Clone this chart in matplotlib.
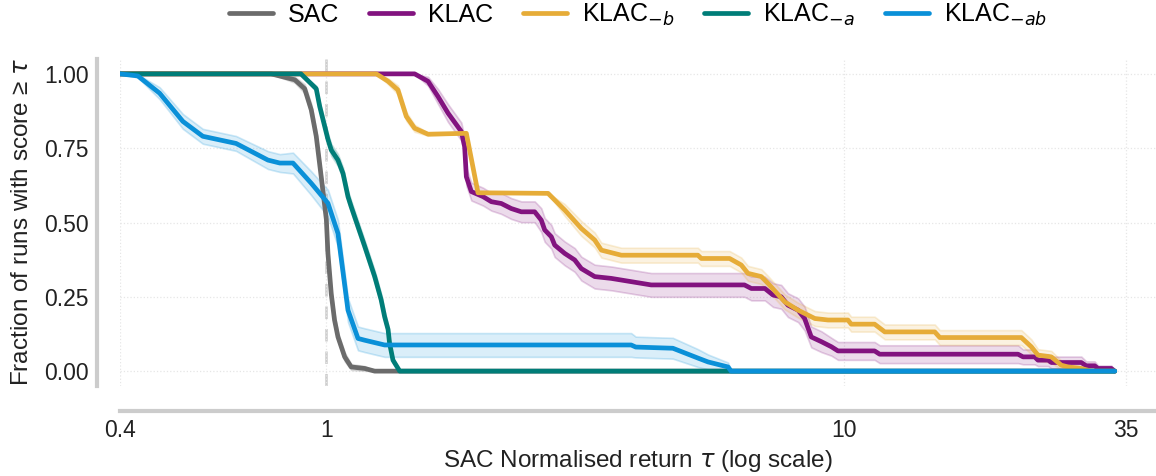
"""
Performance profile: SAC vs KLAC variants
"""
import matplotlib
matplotlib.use('Agg')
import matplotlib.pyplot as plt
from matplotlib.colors import to_rgba
import numpy as np

plt.rcParams['font.family'] = ['Liberation Sans', 'DejaVu Sans']
plt.rcParams['mathtext.fontset'] = 'dejavusans'

# ---- data (tau, fraction, CI half-width) ----
sac_tau = [0.4, 0.783, 0.870, 0.909, 0.936, 0.957, 0.979, 1.001, 1.008, 1.023,
           1.038, 1.054, 1.086, 1.118, 1.187, 1.241, 33.3]
sac_frac = [1.0, 1.0, 0.98, 0.95, 0.879, 0.79, 0.65, 0.51, 0.396, 0.26,
            0.172, 0.115, 0.048, 0.014, 0.009, 0.0, 0.0]
sac_ci = [0.0, 0.0, 0.01, 0.015, 0.02, 0.02, 0.02, 0.02, 0.02, 0.02,
          0.02, 0.015, 0.015, 0.01, 0.008, 0.0, 0.0]

klac_tau = [0.4, 1.482, 1.573, 1.644, 1.719, 1.824, 1.851, 1.865, 1.907, 2.009,
            2.084, 2.178, 2.277, 2.381, 2.527, 2.602, 2.642, 2.721, 2.762, 2.888,
            3.019, 3.109, 3.300, 3.551, 3.881, 4.241, 6.42, 6.62, 7.03, 7.29,
            7.56, 7.79, 8.15, 8.39, 8.64, 9.04, 9.45, 9.73, 11.45, 11.71,
            21.66, 22.15, 23.32, 23.67, 24.76, 25.12, 28.70, 29.33, 30.45, 30.91,
            32.79, 33.3]
klac_frac = [1.0, 1.0, 0.975, 0.924, 0.868, 0.806, 0.755, 0.654, 0.604, 0.587,
             0.57, 0.564, 0.547, 0.536, 0.536, 0.508, 0.475, 0.452, 0.424, 0.396,
             0.374, 0.345, 0.318, 0.312, 0.301, 0.29, 0.29, 0.278, 0.278, 0.256,
             0.25, 0.222, 0.205, 0.177, 0.115, 0.099, 0.082, 0.068, 0.068, 0.057,
             0.057, 0.048, 0.048, 0.037, 0.037, 0.029, 0.029, 0.018, 0.018, 0.009,
             0.009, 0.0]
klac_ci = [0.0, 0.0, 0.015, 0.025, 0.03, 0.03, 0.03, 0.03, 0.03, 0.03,
           0.03, 0.035, 0.035, 0.035, 0.035, 0.04, 0.04, 0.04, 0.04, 0.04,
           0.04, 0.04, 0.04, 0.04, 0.04, 0.04, 0.04, 0.04, 0.04, 0.04,
           0.04, 0.04, 0.04, 0.04, 0.035, 0.035, 0.03, 0.03, 0.03, 0.03,
           0.03, 0.025, 0.025, 0.02, 0.02, 0.02, 0.02, 0.015, 0.015, 0.01,
           0.01, 0.0]

klacb_tau = [0.4, 1.250, 1.317, 1.376, 1.428, 1.482, 1.573, 1.865, 1.964, 2.682,
             2.888, 3.109, 3.300, 3.399, 3.715, 5.22, 5.30, 6.01, 6.33, 6.52,
             6.92, 7.13, 7.68, 8.15, 8.78, 9.31, 10.17, 10.32, 11.45, 11.98,
             14.96, 15.30, 21.98, 22.98, 23.67, 25.12, 26.26, 27.06, 28.70, 30.01,
             33.3]
klacb_frac = [1.0, 1.0, 0.975, 0.946, 0.857, 0.817, 0.797, 0.80, 0.60, 0.598,
              0.542, 0.48, 0.441, 0.407, 0.39, 0.39, 0.379, 0.379, 0.357, 0.329,
              0.318, 0.295, 0.233, 0.205, 0.177, 0.172, 0.172, 0.158, 0.158, 0.132,
              0.132, 0.113, 0.113, 0.082, 0.054, 0.048, 0.02, 0.014, 0.009, 0.0,
              0.0]
klacb_ci = [0.0, 0.0, 0.01, 0.015, 0.015, 0.012, 0.005, 0.0, 0.0, 0.0,
            0.02, 0.025, 0.025, 0.025, 0.025, 0.025, 0.025, 0.025, 0.025, 0.025,
            0.025, 0.025, 0.025, 0.025, 0.025, 0.025, 0.025, 0.025, 0.025, 0.025,
            0.025, 0.025, 0.025, 0.025, 0.02, 0.02, 0.015, 0.01, 0.008, 0.0,
            0.0]

klaca_tau = [0.4, 0.894, 0.957, 0.972, 1.008, 1.023, 1.054, 1.078, 1.102, 1.118,
             1.187, 1.241, 1.277, 1.297, 1.317, 1.326, 1.346, 1.387, 33.3]
klaca_frac = [1.0, 1.0, 0.95, 0.89, 0.78, 0.744, 0.71, 0.665, 0.587, 0.553,
              0.42, 0.318, 0.24, 0.183, 0.14, 0.093, 0.037, 0.0, 0.0]
klaca_ci = [0.0, 0.0, 0.01, 0.015, 0.02, 0.02, 0.02, 0.02, 0.02, 0.02,
            0.02, 0.02, 0.02, 0.02, 0.015, 0.015, 0.01, 0.0, 0.0]

klacab_tau = [0.4, 0.433, 0.477, 0.529, 0.578, 0.670, 0.772, 0.814, 0.863, 0.936,
              1.008, 1.054, 1.102, 1.152, 1.187, 1.297, 3.88, 3.96, 4.67, 5.22,
              5.46, 5.97, 6.05, 33.3]
klacab_frac = [1.0, 0.993, 0.935, 0.84, 0.79, 0.766, 0.71, 0.70, 0.70, 0.632,
               0.565, 0.463, 0.205, 0.11, 0.104, 0.088, 0.088, 0.081, 0.077, 0.044,
               0.031, 0.014, 0.0, 0.0]
klacab_ci = [0.0, 0.005, 0.02, 0.025, 0.025, 0.025, 0.03, 0.03, 0.035, 0.04,
             0.045, 0.045, 0.04, 0.04, 0.04, 0.04, 0.04, 0.035, 0.035, 0.03,
             0.025, 0.015, 0.0, 0.0]

series = [
    ('SAC', sac_tau, sac_frac, sac_ci, '#6b6b6b'),
    ('KLAC', klac_tau, klac_frac, klac_ci, '#82137f'),
    ('KLAC$_{-b}$', klacb_tau, klacb_frac, klacb_ci, '#e6ac38'),
    ('KLAC$_{-a}$', klaca_tau, klaca_frac, klaca_ci, '#007d78'),
    ('KLAC$_{-ab}$', klacab_tau, klacab_frac, klacab_ci, '#0a90d8'),
]

xticks = [0.4, 1, 10, 35]
xticklabels = ['0.4', '1', '10', '35']
yticks = [0.0, 0.25, 0.5, 0.75, 1.0]

fig = plt.figure(figsize=(11.56, 4.76), dpi=100)
ax = fig.add_axes([120 / 1156, 1 - 386 / 476, 1036 / 1156, 327 / 476])

# confidence bands first, lines on top
for label, tau, frac, ci, color in series:
    frac = np.array(frac)
    ci = np.array(ci)
    lo = np.clip(frac - ci, 0, 1)
    hi = np.clip(frac + ci, 0, 1)
    ax.fill_between(tau, lo, hi, facecolor=to_rgba(color, 0.15),
                    edgecolor=to_rgba(color, 0.2), linewidth=1.2)

for label, tau, frac, ci, color in series:
    ax.plot(tau, frac, color=color, linewidth=3.4, label=label,
            solid_joinstyle='round', solid_capstyle='round')

ax.axvline(1, color='#cccccc', linestyle=(0, (5, 4)), linewidth=1.8, zorder=0)

ax.set_xscale('log')
ax.set_xlim(0.4, 40)
ax.set_ylim(-0.05, 1.05)
ax.set_xticks(xticks)
ax.set_xticklabels(xticklabels)
ax.xaxis.set_minor_locator(matplotlib.ticker.NullLocator())
ax.set_yticks(yticks)
ax.set_yticklabels(['0.00', '0.25', '0.50', '0.75', '1.00'])
ax.tick_params(axis='both', length=0, labelsize=16.5, colors='#222222')
ax.tick_params(axis='x', pad=6)
ax.tick_params(axis='y', pad=6)
ax.grid(True, which='major', linestyle=':', color='#e6e6e6', linewidth=0.9)
ax.set_axisbelow(True)

for side in ['top', 'right']:
    ax.spines[side].set_visible(False)
ax.spines['left'].set_position(('outward', 16.5))
ax.spines['bottom'].set_position(('outward', 18))
for side in ['left', 'bottom']:
    ax.spines[side].set_color('#cccccc')
    ax.spines[side].set_linewidth(3)

ax.set_xlabel(r'SAC Normalised return $\tau$ (log scale)', fontsize=17.5,
              color='#222222', labelpad=4)
ax.set_ylabel('Fraction of runs with score ≥ $\\tau$', fontsize=17.5,
              color='#222222', labelpad=8)

ax.legend(loc='lower center', bbox_to_anchor=(0.5, 1.04), ncol=5, frameon=False,
          fontsize=18, handlelength=1.75, columnspacing=1.2, handletextpad=0.6,
          borderaxespad=0.3)

plt.savefig('out.png', dpi=100)
print("saved out.png")
